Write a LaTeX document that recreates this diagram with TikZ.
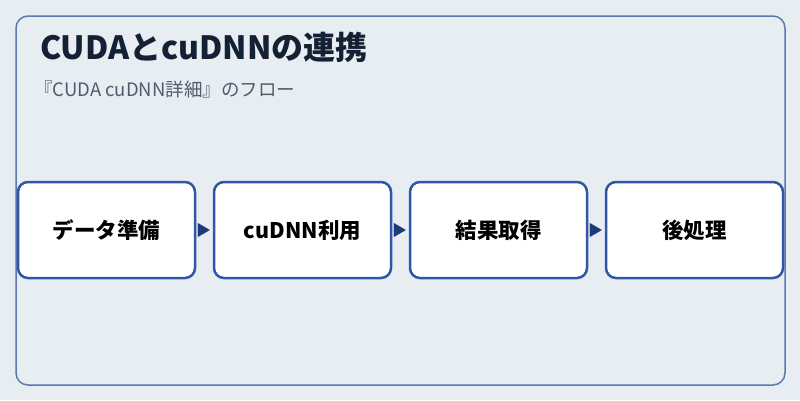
\documentclass[tikz,border=0pt]{standalone}
\usepackage{fontspec}
\setmainfont{Noto Sans CJK JP}
\usetikzlibrary{arrows.meta}
\definecolor{bgcol}{HTML}{E8EDF2}
\definecolor{framecol}{HTML}{5B78B0}
\definecolor{boxcol}{HTML}{2F57A5}
\definecolor{arrowcol}{HTML}{1E3A78}
\definecolor{titlecol}{HTML}{142033}
\definecolor{subcol}{HTML}{4F5B6E}

\begin{document}
\begin{tikzpicture}[x=1pt, y=-1pt]
        % ================= 样式定义 =================
        \tikzset{
            % 外框
            panel/.style={draw=framecol, line width=1.5pt, rounded corners=12pt, fill=bgcol},
            % 步骤框
            stepbox/.style={draw=boxcol, line width=2.5pt, fill=white, rounded corners=10pt,
                minimum width=177pt, minimum height=96pt, inner sep=0pt,
                font=\fontsize{21.5}{25}\selectfont\bfseries, text=black},
            % 流程箭头
            flow/.style={line width=0.01pt, arrowcol, shorten >=3pt,
                -{Triangle[length=12pt, width=14pt]}}
        }

        % 背景
        \fill[bgcol] (0,0) rectangle (800,400);
        \useasboundingbox (0,0) rectangle (800,400);
        \draw[panel] (16,16) rectangle (785,385);

        % 标题
        \node[anchor=west, inner sep=0pt, text=titlecol, font=\fontsize{32}{36}\selectfont\bfseries] (title) at (40,47) {CUDAとcuDNNの連携};
        \node[anchor=west, inner sep=0pt, text=subcol, font=\fontsize{18.5}{22}\selectfont] (subtitle) at (34,89) {『CUDA cuDNN詳細』のフロー};

        % 步骤
        \node[stepbox] (prep) at (106.5,230) {データ準備};
        \node[stepbox] (use) at (302.5,230) {cuDNN利用};
        \node[stepbox] (fetch) at (498.5,230) {結果取得};
        \node[stepbox] (post) at (694.5,230) {後処理};

        % 连接
        \draw[flow] (prep) -- (use);
        \draw[flow] (use) -- (fetch);
        \draw[flow] (fetch) -- (post);

    \end{tikzpicture}
\end{document}
